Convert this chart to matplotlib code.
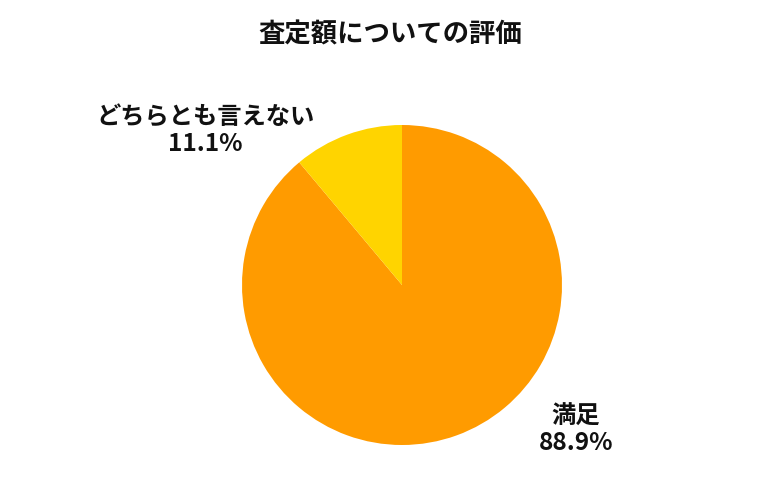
import matplotlib
matplotlib.use("Agg")
import matplotlib.pyplot as plt

plt.rcParams["font.family"] = ["Noto Sans CJK JP", "DejaVu Sans"]

labels = ["満足", "どちらとも言えない"]
values = [88.9, 11.1]
colors = ["#FF9B00", "#FFD400"]
title = "査定額についての評価"

# pie center at (402, 285) px, radius 160 px
CX, CY, R = 402, 285, 160
W, H = 780, 500

fig = plt.figure(figsize=(7.8, 5.0), dpi=100)
ax = fig.add_axes([0, 0, 1, 1])
ax.pie(values, colors=colors, startangle=90, counterclock=False, radius=1,
       wedgeprops=dict(linewidth=0))
ax.set_xlim(-CX / R, (W - CX) / R)
ax.set_ylim(-(H - CY) / R, CY / R)
ax.set_aspect("equal")
ax.axis("off")

def px(x, y):
    return (x - CX) / R, (CY - y) / R

ax.text(*px(390, 35), title, ha="center", va="center", fontsize=19, fontweight="bold", color="#111111")
ax.text(*px(576, 430), f"{labels[0]}\n{values[0]}%", ha="center", va="center",
        fontsize=17.5, fontweight="bold", color="#111111", linespacing=1.15)
ax.text(*px(205, 131), f"{labels[1]}\n{values[1]}%", ha="center", va="center",
        fontsize=17.5, fontweight="bold", color="#111111", linespacing=1.15)

fig.savefig("out.png", dpi=100)
